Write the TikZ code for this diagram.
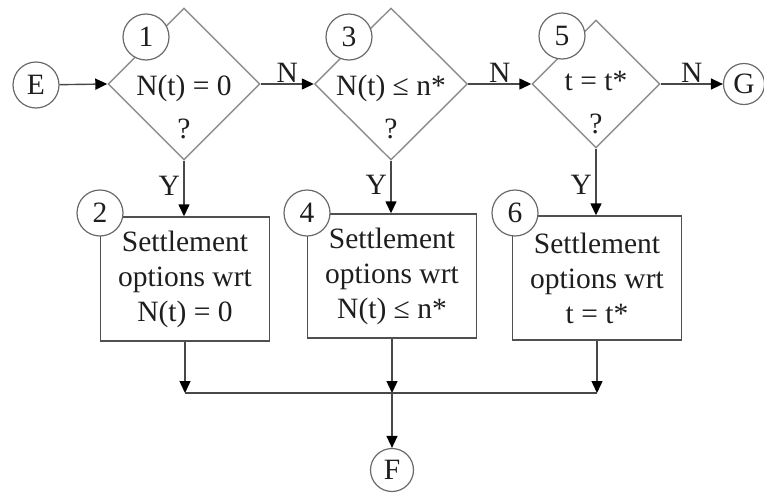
\documentclass[tikz,border=0pt]{standalone}
\usepackage{fontspec}
\setmainfont{Liberation Serif}
\usepackage{xcolor}
\usetikzlibrary{arrows.meta,positioning,shapes.geometric}
\definecolor{ink}{HTML}{1E1E1E}
\definecolor{wire}{HTML}{484848}
\definecolor{rim}{HTML}{8C8C8C}
\definecolor{edge}{HTML}{505050}

\begin{document}
\begin{tikzpicture}[
  x=1pt,y=-1pt,
  font=\fontsize{29.5}{35}\selectfont,
  text=ink,
  test/.style={draw=rim,line width=1.4pt,diamond,aspect=1,inner sep=0pt},
  qtext/.style={align=center,font=\fontsize{29.5}{43}\selectfont},
  act/.style={draw=edge,line width=1.4pt,rectangle,minimum width=169pt,minimum height=124pt,align=center,inner sep=0pt},
  tag/.style={draw=edge!85,line width=1.2pt,circle,fill=white,minimum size=46pt,inner sep=0pt},
  fl/.style={-{Triangle[length=12pt,width=11pt,color=black]},draw=wire,line width=1.4pt},
  ln/.style={draw=wire,line width=1.4pt}
]
\useasboundingbox (0,0) rectangle (764,493);
% decisions
\node[test,minimum width=152pt,minimum height=152pt] (d1) at (184,84) {};
\node[test,minimum width=153pt,minimum height=152pt] (d3) at (391,84) {};
\node[test,minimum width=128pt,minimum height=128pt] (d5) at (596,84) {};
\node[qtext] (q1) at (184,107) {N(t) = 0\\?};
\node[qtext] (q3) at (391,107) {N(t) ≤ n*\\?};
\node[qtext] (q5) at (596,103) {t = t*\\?};
% settlement boxes
\node[act] (b2) at (185,279) {Settlement\\options wrt\\N(t) = 0};
\node[act] (b4) at (392,276) {Settlement\\options wrt\\N(t) ≤ n*};
\node[act] (b6) at (597,278) {Settlement\\options wrt\\t = t*};
% numbered tags
\node[tag] (n1) at (146,37) {1};
\node[tag] (n3) at (349,37) {3};
\node[tag] (n5) at (562,36) {5};
\node[tag] (n2) at (100,213) {2};
\node[tag] (n4) at (307,213) {4};
\node[tag] (n6) at (515,213) {6};
% entry and exits
\node[tag] (e) at (36,85) {E};
\node[tag,minimum size=41pt] (g) at (744,84) {G};
\node[tag,minimum size=43pt] (f) at (392,470) {F};
\coordinate (j2) at (185,393);
\coordinate (j4) at (392,393);
\coordinate (j6) at (597,393);
\draw[fl] (e) -- (d1.west);
\draw[fl] (d1.east) -- node[above,yshift=-3pt]{N} (d3.west);
\draw[fl] (d3.east) -- node[above,yshift=-3pt]{N} (d5.west);
\draw[fl] (d5.east) -- node[above,yshift=-3pt]{N} (g);
\draw[fl] (d1.south) -- node[left,pos=0.45]{Y} (b2.north -| d1.south);
\draw[fl] (d3.south) -- node[left,pos=0.45]{Y} (b4.north -| d3.south);
\draw[fl] (d5.south) -- node[left,pos=0.55]{Y} (b6.north -| d5.south);
\draw[fl] (b2.south) -- (j2);
\draw[fl] (b4.south) -- (j4);
\draw[fl] (b6.south) -- (j6);
\draw[ln] (j2) -- (j6);
\draw[fl] (j4) -- (f);
\end{tikzpicture}
\end{document}
